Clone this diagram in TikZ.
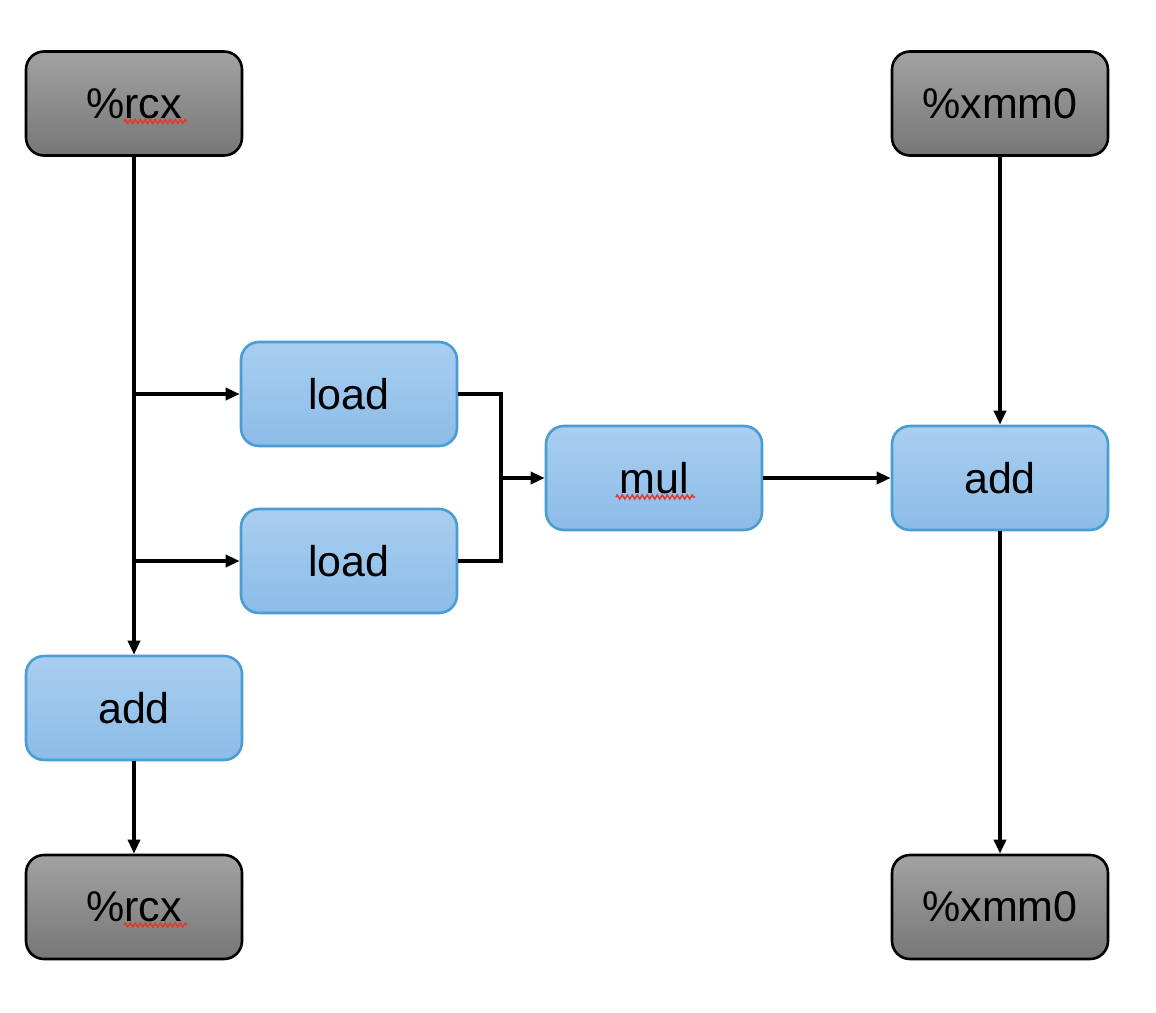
\documentclass[tikz,border=0pt]{standalone}
\usepackage{fontspec}
\setmainfont{Liberation Sans}
\usetikzlibrary{arrows.meta,calc,decorations.pathmorphing}
\definecolor{grayT}{HTML}{A2A2A2}
\definecolor{grayB}{HTML}{777777}
\definecolor{blueT}{HTML}{A9CEF1}
\definecolor{blueB}{HTML}{8BBCE7}
\definecolor{blueE}{HTML}{4A9DD3}
\definecolor{squig}{HTML}{E03A2E}
\begin{document}
\begin{tikzpicture}[x=1pt,y=-1pt,
  box/.style={rounded corners=18pt, minimum width=216pt, minimum height=104pt,
    inner sep=0pt, font=\fontsize{43}{50}\selectfont},
  regbox/.style={box, draw=black, line width=2.6pt, top color=grayT, bottom color=grayB},
  opbox/.style={box, draw=blueE, line width=2.6pt, top color=blueT, bottom color=blueB},
  conn/.style={line width=3.4pt, draw=black},
  arr/.style={conn, -{Triangle[length=14pt,width=12pt]}},
  spell/.style={draw=squig, line width=1.5pt, decorate,
    decoration={zigzag, amplitude=2pt, segment length=5pt}}]
\useasboundingbox (0,0) rectangle (1156,1012);
\node[regbox] (rcxA) at (134,103.5) {\%rcx};
\node[regbox] (xmmA) at (1000,103.5) {\%xmm0};
\node[opbox] (loadA) at (349,394) {load};
\node[opbox] (loadB) at (349,561) {load};
\node[opbox] (mul) at (654,478) {mul};
\node[opbox] (addR) at (1000,478) {add};
\node[opbox] (addL) at (134,708) {add};
\node[regbox] (rcxB) at (134,907) {\%rcx};
\node[regbox] (xmmB) at (1000,907) {\%xmm0};
\coordinate (join) at (501,478);
% connectors
\draw[arr] (rcxA) -- (addL);
\draw[arr] (loadA.west -| rcxA.south) -- (loadA.west);
\draw[arr] (loadB.west -| rcxA.south) -- (loadB.west);
\draw[conn] (loadA.east) -| (join);
\draw[conn] (loadB.east) -| (join);
\draw[arr] (join) -- (mul.west);
\draw[arr] (mul) -- (addR);
\draw[arr] (xmmA) -- (addR);
\draw[arr] (addR) -- (xmmB);
\draw[arr] (addL) -- (rcxB);
% spell-check marks
\draw[spell] ($(rcxA.center)+(-10,18)$) -- ($(rcxA.center)+(53,18)$);
\draw[spell] ($(rcxB.center)+(-10,18)$) -- ($(rcxB.center)+(53,18)$);
\draw[spell] ($(mul.center)+(-38,19)$) -- ($(mul.center)+(41,19)$);
\end{tikzpicture}
\end{document}
